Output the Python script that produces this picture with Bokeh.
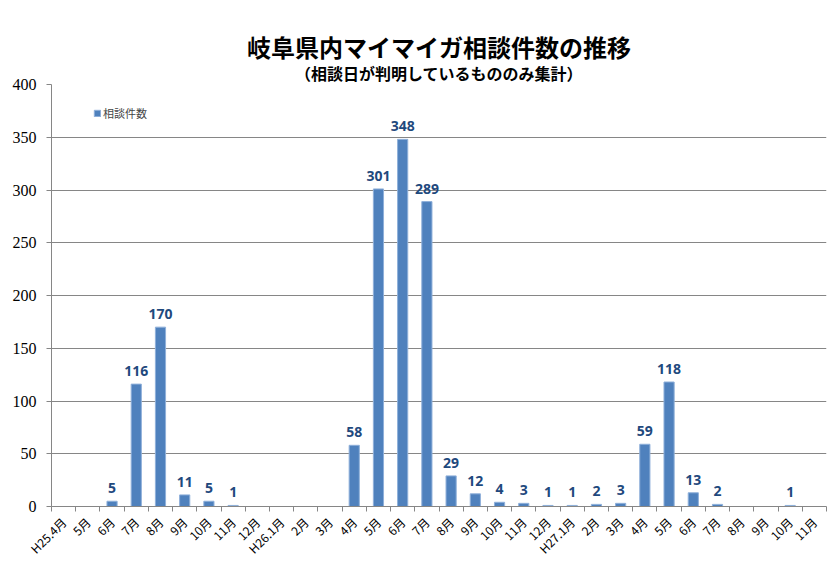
from math import pi
from bokeh.plotting import figure
from bokeh.models import ColumnDataSource, FixedTicker, Title, Range1d, LabelSet
from bokeh.core.properties import value
from bokeh.embed import file_html
from bokeh.resources import INLINE

months = ["H25.4月", "5月", "6月", "7月", "8月", "9月", "10月", "11月", "12月",
          "H26.1月", "2月", "3月", "4月", "5月", "6月", "7月", "8月", "9月", "10月", "11月", "12月",
          "H27.1月", "2月", "3月", "4月", "5月", "6月", "7月", "8月", "9月", "10月", "11月"]
counts = [0, 0, 5, 116, 170, 11, 5, 1, 0,
          0, 0, 0, 58, 301, 348, 289, 29, 12, 4, 3, 1,
          1, 2, 3, 59, 118, 13, 2, 0, 0, 1, 0]
series_name = "相談件数"
title_text = "岐阜県内マイマイガ相談件数の推移"
subtitle_text = "（相談日が判明しているもののみ集計）"
y_ticks = [0, 50, 100, 150, 200, 250, 300, 350, 400]

xs = list(range(len(months)))
src = ColumnDataSource(dict(x=xs, y=counts))
lab = ColumnDataSource(dict(x=[x for x, c in zip(xs, counts) if c > 0],
                            y=[c for c in counts if c > 0],
                            t=[str(c) for c in counts if c > 0]))

p = figure(width=829, height=565, output_backend="svg", toolbar_location=None,
           x_range=Range1d(-0.5, len(months) - 0.5), y_range=Range1d(0, 400),
           min_border_left=51, min_border_right=3, min_border_bottom=54,
           min_border_top=84)
p.title.visible = False

p.add_layout(Title(text=subtitle_text, align="center", text_font_size="16px",
                   text_font="Noto Sans CJK JP", text_font_style="bold",
                   text_color="#000000", standoff=0, offset=10), "above")
p.add_layout(Title(text=title_text, align="center", text_font_size="24px",
                   text_font="Noto Sans CJK JP", text_font_style="bold",
                   text_color="#000000", standoff=-10, offset=10), "above")
p.add_layout(Title(text=" ", text_font_size="5px", standoff=-18), "above")

p.vbar(x="x", top="y", width=0.42, source=src, fill_color="#4F81BD",
       line_color="#8FB0DA", line_width=1, legend_label=series_name)

p.add_layout(LabelSet(x="x", y="y", text="t", source=lab, y_offset=8,
                      text_align="center", text_baseline="bottom",
                      text_font=value("Open Sans"), text_font_style="bold",
                      text_font_size="14px", text_color="#1F497D"))

p.xaxis.ticker = FixedTicker(ticks=xs, minor_ticks=[x - 0.5 for x in xs] + [len(xs) - 0.5])
p.xaxis.major_label_overrides = {i: m for i, m in enumerate(months)}
p.xaxis.major_label_orientation = pi / 4
p.xaxis.major_tick_line_color = None
p.xaxis.minor_tick_in = 0
p.xaxis.minor_tick_out = 5
p.xaxis.minor_tick_line_color = "#868686"
p.xaxis.axis_line_color = "#868686"
p.xaxis.major_label_text_font = "Noto Sans CJK JP"
p.xaxis.major_label_text_font_size = "12px"
p.xaxis.major_label_text_color = "#000000"
p.xaxis.major_label_standoff = 7

p.yaxis.ticker = FixedTicker(ticks=y_ticks)
p.yaxis.minor_tick_line_color = None
p.yaxis.major_tick_in = 0
p.yaxis.major_tick_out = 5
p.yaxis.major_tick_line_color = "#868686"
p.yaxis.axis_line_color = "#868686"
p.yaxis.major_label_text_font = "Liberation Sans Narrow"
p.yaxis.major_label_text_font_size = "16px"
p.yaxis.major_label_text_color = "#000000"
p.yaxis.major_label_standoff = 10

p.xgrid.grid_line_color = None
p.ygrid.grid_line_color = "#868686"
p.ygrid.grid_line_width = 1
p.outline_line_color = None

p.legend.location = (42, 385)
p.legend.background_fill_alpha = 0
p.legend.border_line_color = None
p.legend.label_text_font = "Noto Sans CJK JP"
p.legend.label_text_font_size = "11px"
p.legend.glyph_width = 8
p.legend.glyph_height = 8
p.legend.label_standoff = 2
p.legend.margin = 0
p.legend.padding = 0

open("out.html", "w").write(file_html(p, INLINE))
